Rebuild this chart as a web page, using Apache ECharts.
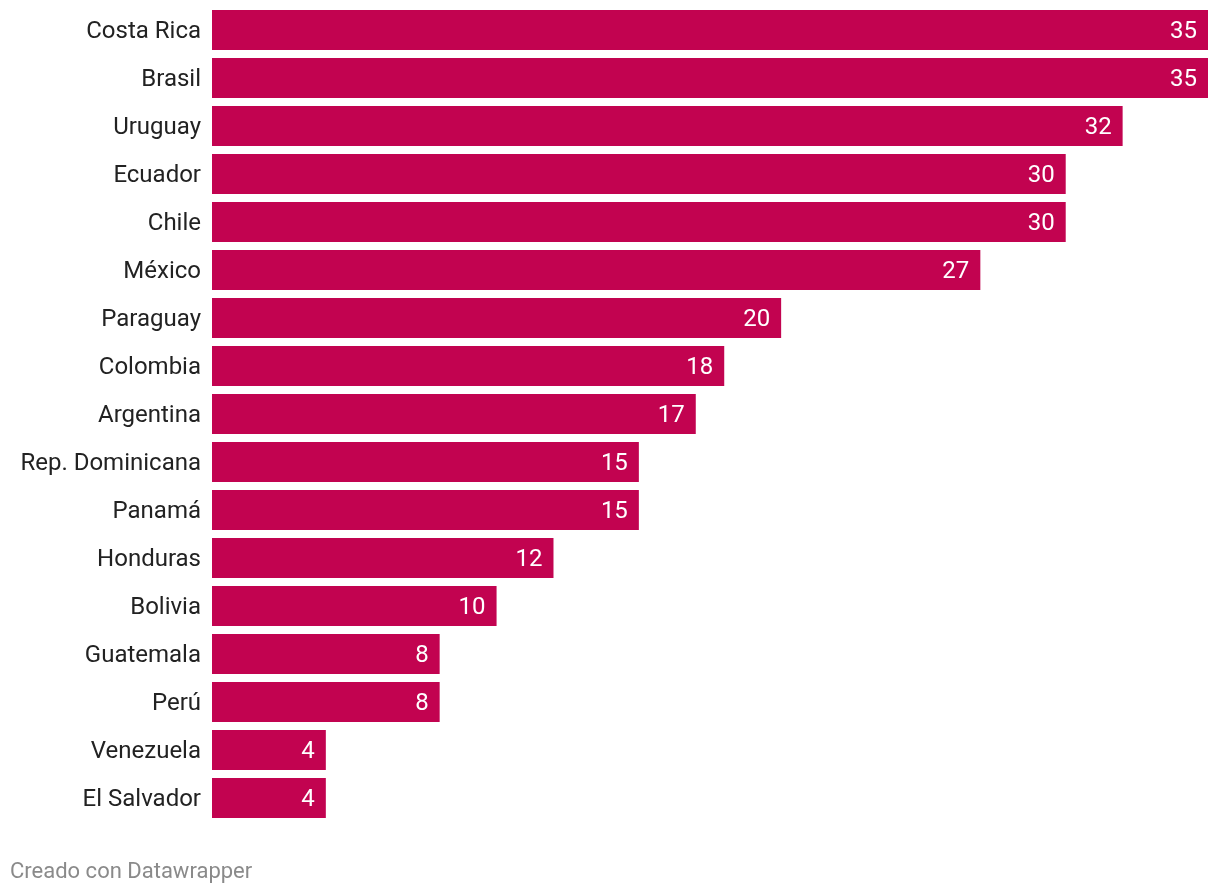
<!DOCTYPE html>
<html>
<head>
<meta charset="utf-8">
<script src="https://cdn.jsdelivr.net/npm/echarts@6/dist/echarts.min.js"></script>
<style>
html,body{margin:0;padding:0;background:#fff;}
#chart{width:1220px;height:894px;}
</style>
</head>
<body>
<div id="chart"></div>
<script>
const countries = ["Costa Rica","Brasil","Uruguay","Ecuador","Chile","México","Paraguay","Colombia","Argentina","Rep. Dominicana","Panamá","Honduras","Bolivia","Guatemala","Perú","Venezuela","El Salvador"];
const values = [35,35,32,30,30,27,20,18,17,15,15,12,10,8,8,4,4];
const footer = "Creado con Datawrapper";

const chart = echarts.init(document.getElementById('chart'), null, {renderer:'canvas'});
chart.setOption({
  animation:false,
  backgroundColor:'#ffffff',
  textStyle:{fontFamily:'Roboto'},
  grid:{left:212,right:12,top:6,bottom:72,containLabel:false},
  xAxis:{type:'value',min:0,max:35,show:false,splitLine:{show:false}},
  yAxis:{
    type:'category',data:countries,inverse:true,
    axisLine:{show:false},axisTick:{show:false},splitLine:{show:false},
    axisLabel:{
      margin:11,
      formatter:function(v){return '{a|'+v+'}';},
      rich:{a:{fontSize:24,color:'#222222',fontFamily:'Roboto',padding:[4,0,0,0]}}
    }
  },
  series:[{
    type:'bar',data:values,barCategoryGap:'16.67%',
    itemStyle:{color:'#c20350'},
    label:{show:true,position:'insideRight',distance:11,offset:[0,2],color:'#ffffff',fontSize:24,fontFamily:'Roboto'}
  }],
  graphic:[{type:'text',left:10,top:861,style:{text:footer,fontSize:22,fill:'#8a8a8a',fontFamily:'Roboto'}}]
});
</script>
</body>
</html>
